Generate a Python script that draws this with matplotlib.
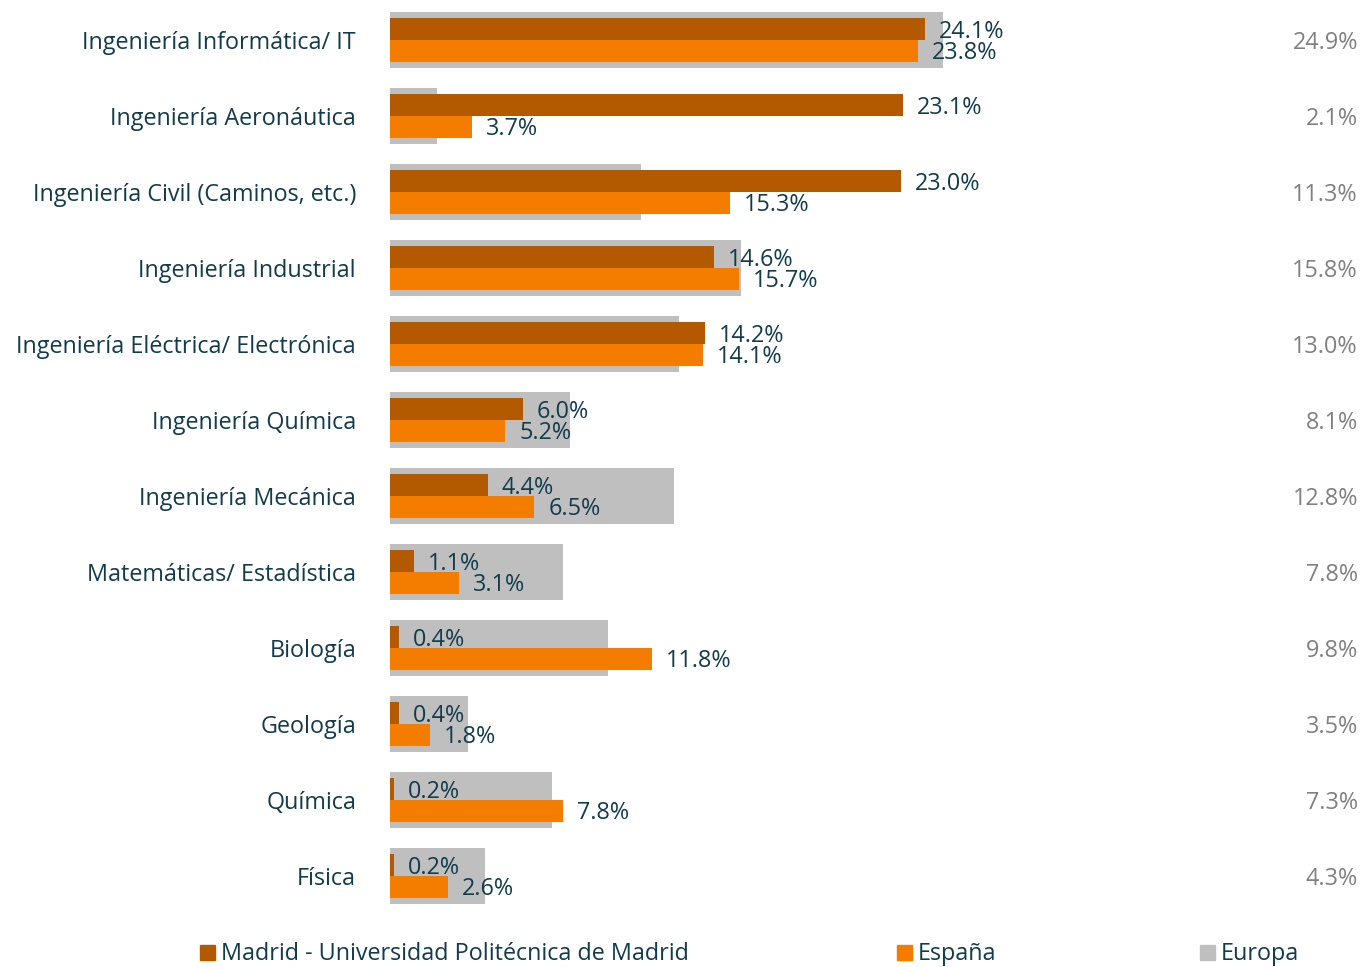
import matplotlib
matplotlib.use("Agg")
import matplotlib.pyplot as plt
from matplotlib.patches import Rectangle
from matplotlib.transforms import blended_transform_factory

plt.rcParams['font.family'] = ['Open Sans', 'DejaVu Sans']

categories = [
    "Ingeniería Informática/ IT",
    "Ingeniería Aeronáutica",
    "Ingeniería Civil (Caminos, etc.)",
    "Ingeniería Industrial",
    "Ingeniería Eléctrica/ Electrónica",
    "Ingeniería Química",
    "Ingeniería Mecánica",
    "Matemáticas/ Estadística",
    "Biología",
    "Geología",
    "Química",
    "Física",
]
madrid = [24.1, 23.1, 23.0, 14.6, 14.2, 6.0, 4.4, 1.1, 0.4, 0.4, 0.2, 0.2]
espana = [23.8, 3.7, 15.3, 15.7, 14.1, 5.2, 6.5, 3.1, 11.8, 1.8, 7.8, 2.6]
europa = [24.9, 2.1, 11.3, 15.8, 13.0, 8.1, 12.8, 7.8, 9.8, 3.5, 7.3, 4.3]
series_names = ["Madrid - Universidad Politécnica de Madrid", "España", "Europa"]

C_MAD = "#B35A00"
C_ESP = "#F47D00"
C_EUR = "#BFBFBF"
C_TXT = "#123B4C"
C_GREY_TXT = "#808080"
FS = 16.8

W, H = 1365, 967
fig = plt.figure(figsize=(W / 100, H / 100), dpi=100)
ax = fig.add_axes([390 / W, (H - 914) / H, 900 / W, 912 / H])

px_per_pct = 22.2
ax.set_xlim(0, 900 / px_per_pct)
ax.set_ylim(len(categories) - 0.5, -0.5)

y = list(range(len(categories)))
ax.barh(y, europa, height=0.74, color=C_EUR, zorder=1)
ax.barh([v - 0.145 for v in y], madrid, height=0.29, color=C_MAD, zorder=2)
ax.barh([v + 0.145 for v in y], espana, height=0.29, color=C_ESP, zorder=2)

fig_x = blended_transform_factory(fig.transFigure, ax.transData)
dy = 0.035  # text sits a touch below the bar centre

for i in y:
    ax.annotate(f"{madrid[i]:.1f}%", (madrid[i], i - 0.145), xytext=(10, -2.5),
                textcoords="offset points", va="center", ha="left",
                fontsize=FS, color=C_TXT, zorder=3)
    ax.annotate(f"{espana[i]:.1f}%", (espana[i], i + 0.145), xytext=(10, -1.5),
                textcoords="offset points", va="center", ha="left",
                fontsize=FS, color=C_TXT, zorder=3)
    ax.text(1358 / W, i + dy, f"{europa[i]:.1f}%", transform=fig_x,
            ha="right", va="center", fontsize=FS, color=C_GREY_TXT)
    ax.text(356 / W, i + dy, categories[i], transform=fig_x,
            ha="right", va="center", fontsize=FS, color=C_TXT)

ax.set_yticks([])
ax.set_xticks([])
for s in ax.spines.values():
    s.set_visible(False)

# legend drawn by hand
leg_y = 952
for x0, name, col in [(200, series_names[0], C_MAD), (897, series_names[1], C_ESP),
                      (1200, series_names[2], C_EUR)]:
    fig.patches.append(Rectangle((x0 / W, (H - leg_y - 8) / H), 15 / W, 15 / H,
                                 transform=fig.transFigure, color=col))
    fig.text((x0 + 21) / W, (H - leg_y - 2) / H, name, ha="left", va="center",
             fontsize=FS, color=C_TXT)

fig.savefig("out.png", dpi=100)
